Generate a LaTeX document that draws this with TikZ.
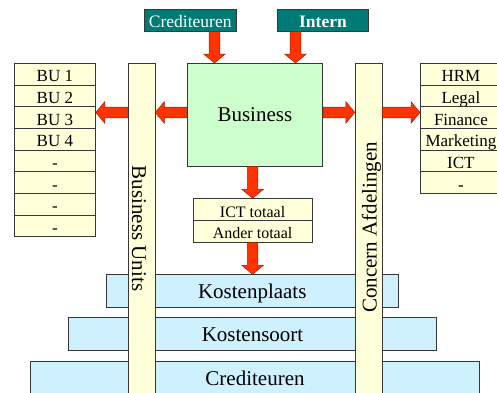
\documentclass[tikz,border=0pt]{standalone}
\usepackage{fontspec}
\setmainfont{Liberation Serif}
\usetikzlibrary{calc}
\definecolor{tealA}{RGB}{0,122,116}
\definecolor{redA}{RGB}{255,51,0}
\definecolor{redL}{RGB}{165,30,0}
\definecolor{greenB}{RGB}{204,255,204}
\definecolor{yelB}{RGB}{255,255,217}
\definecolor{bluB}{RGB}{206,240,255}
\definecolor{edgeC}{RGB}{55,55,55}
\tikzset{
  box/.style={draw=edgeC, line width=0.8pt, rectangle, inner sep=0pt, anchor=north west},
  rowbox/.style={box, fill=yelB, minimum width=81pt, text height=18.5pt, text depth=3.17pt, font=\fontsize{17}{17}\selectfont},
  smallrow/.style={box, fill=yelB, minimum width=119pt, text height=18.4pt, text depth=3.3pt, font=\fontsize{16}{16}\selectfont},
  labelbox/.style={box, fill=tealA, text=white, minimum width=91.7pt, text height=17.4pt, text depth=4pt, font=\fontsize{17.5}{17.5}\selectfont},
  barbox/.style={box, fill=yelB, minimum width=26.8pt, minimum height=340pt},
  bluebox/.style={box, fill=bluB, text height=24.2pt, text depth=8.4pt, font=\fontsize{21}{21}\selectfont},
  bigtext/.style={font=\fontsize{21}{21}\selectfont, inner sep=0pt},
  barrow/.style={fill=redA, draw=redL, line width=0.5pt, line join=miter},
}
\newcommand\blockarrow[2]{%
  \coordinate (bas) at #1;
  \coordinate (bae) at #2;
  \coordinate (bac) at ($(bae)!9pt!(bas)$);
  \path[barrow] ($(bas)!5.3pt!90:(bae)$) -- ($(bac)!5.3pt!-90:(bas)$) -- ($(bac)!10.8pt!-90:(bas)$) -- (bae) -- ($(bac)!10.8pt!90:(bas)$) -- ($(bac)!5.3pt!90:(bas)$) -- ($(bas)!5.3pt!-90:(bae)$) -- cycle;}
\begin{document}
\begin{tikzpicture}[x=1pt, y=-1pt]
\useasboundingbox (0,0) rectangle (497,392);
\clip (0,0) rectangle (497,392);
\fill[white] (0,0) rectangle (497,392);
% blue layers
\node[bluebox, minimum width=291.7pt] (kplaats) at (106,274.3) {Kostenplaats};
\node[bluebox, minimum width=367.7pt] (ksoort) at (68.3,317.3) {Kostensoort};
\node[bluebox, minimum width=449.3pt, text depth=9pt] (kcred) at (30,361) {Crediteuren};
% bars
\node[barbox] (bubar) at (127.7,63) {};
\node[barbox] (cbar) at (354.8,63) {};
\node[bigtext, rotate=-90, anchor=base] (butext) at (132,228.5) {Business Units};
\node[bigtext, rotate=90, anchor=base] (ctext) at (376.5,227.5) {Concern Afdelingen};
% top labels
\node[labelbox] (credtop) at (144,9.3) {Crediteuren};
\node[labelbox, font=\fontsize{17.5}{17.5}\selectfont\bfseries] (interntop) at (276.7,9.3) {Intern};
% business
\node[box, fill=greenB, minimum width=135.6pt, minimum height=102.7pt, font=\fontsize{21}{21}\selectfont] (business) at (186.7,63) {Business};
% lists
\foreach \t [count=\i] in {BU 1,BU 2,BU 3,BU 4,-,-,-,-}
  \node[rowbox] (bu\i) at (14,{63+(\i-1)*21.67}) {\t};
\foreach \t [count=\i] in {HRM,Legal,Finance,Marketing,ICT,-}
  \node[rowbox] (hr\i) at (420,{63+(\i-1)*21.67}) {\t};
% ICT box
\node[smallrow] (ict) at (192.7,198.3) {ICT totaal};
\node[smallrow] (ander) at (192.7,220) {Ander totaal};
% arrows
\coordinate (ca) at ([xshift=24.2pt]credtop.south);
\coordinate (ia) at ([xshift=-27.5pt]interntop.south);
\coordinate (ly) at ([yshift=2.3pt]business.west);
\blockarrow{(ca)}{(ca |- business.north)}
\blockarrow{(ia)}{(ia |- business.north)}
\blockarrow{(ly)}{(ly -| bubar.east)}
\blockarrow{(ly -| bubar.west)}{(ly -| bu3.east)}
\blockarrow{(ly -| business.east)}{(ly -| cbar.west)}
\blockarrow{(ly -| cbar.east)}{(ly -| hr3.west)}
\blockarrow{(ict.north |- business.south)}{(ict.north)}
\blockarrow{(ander.south)}{(ander.south |- kplaats.north)}
\end{tikzpicture}
\end{document}
